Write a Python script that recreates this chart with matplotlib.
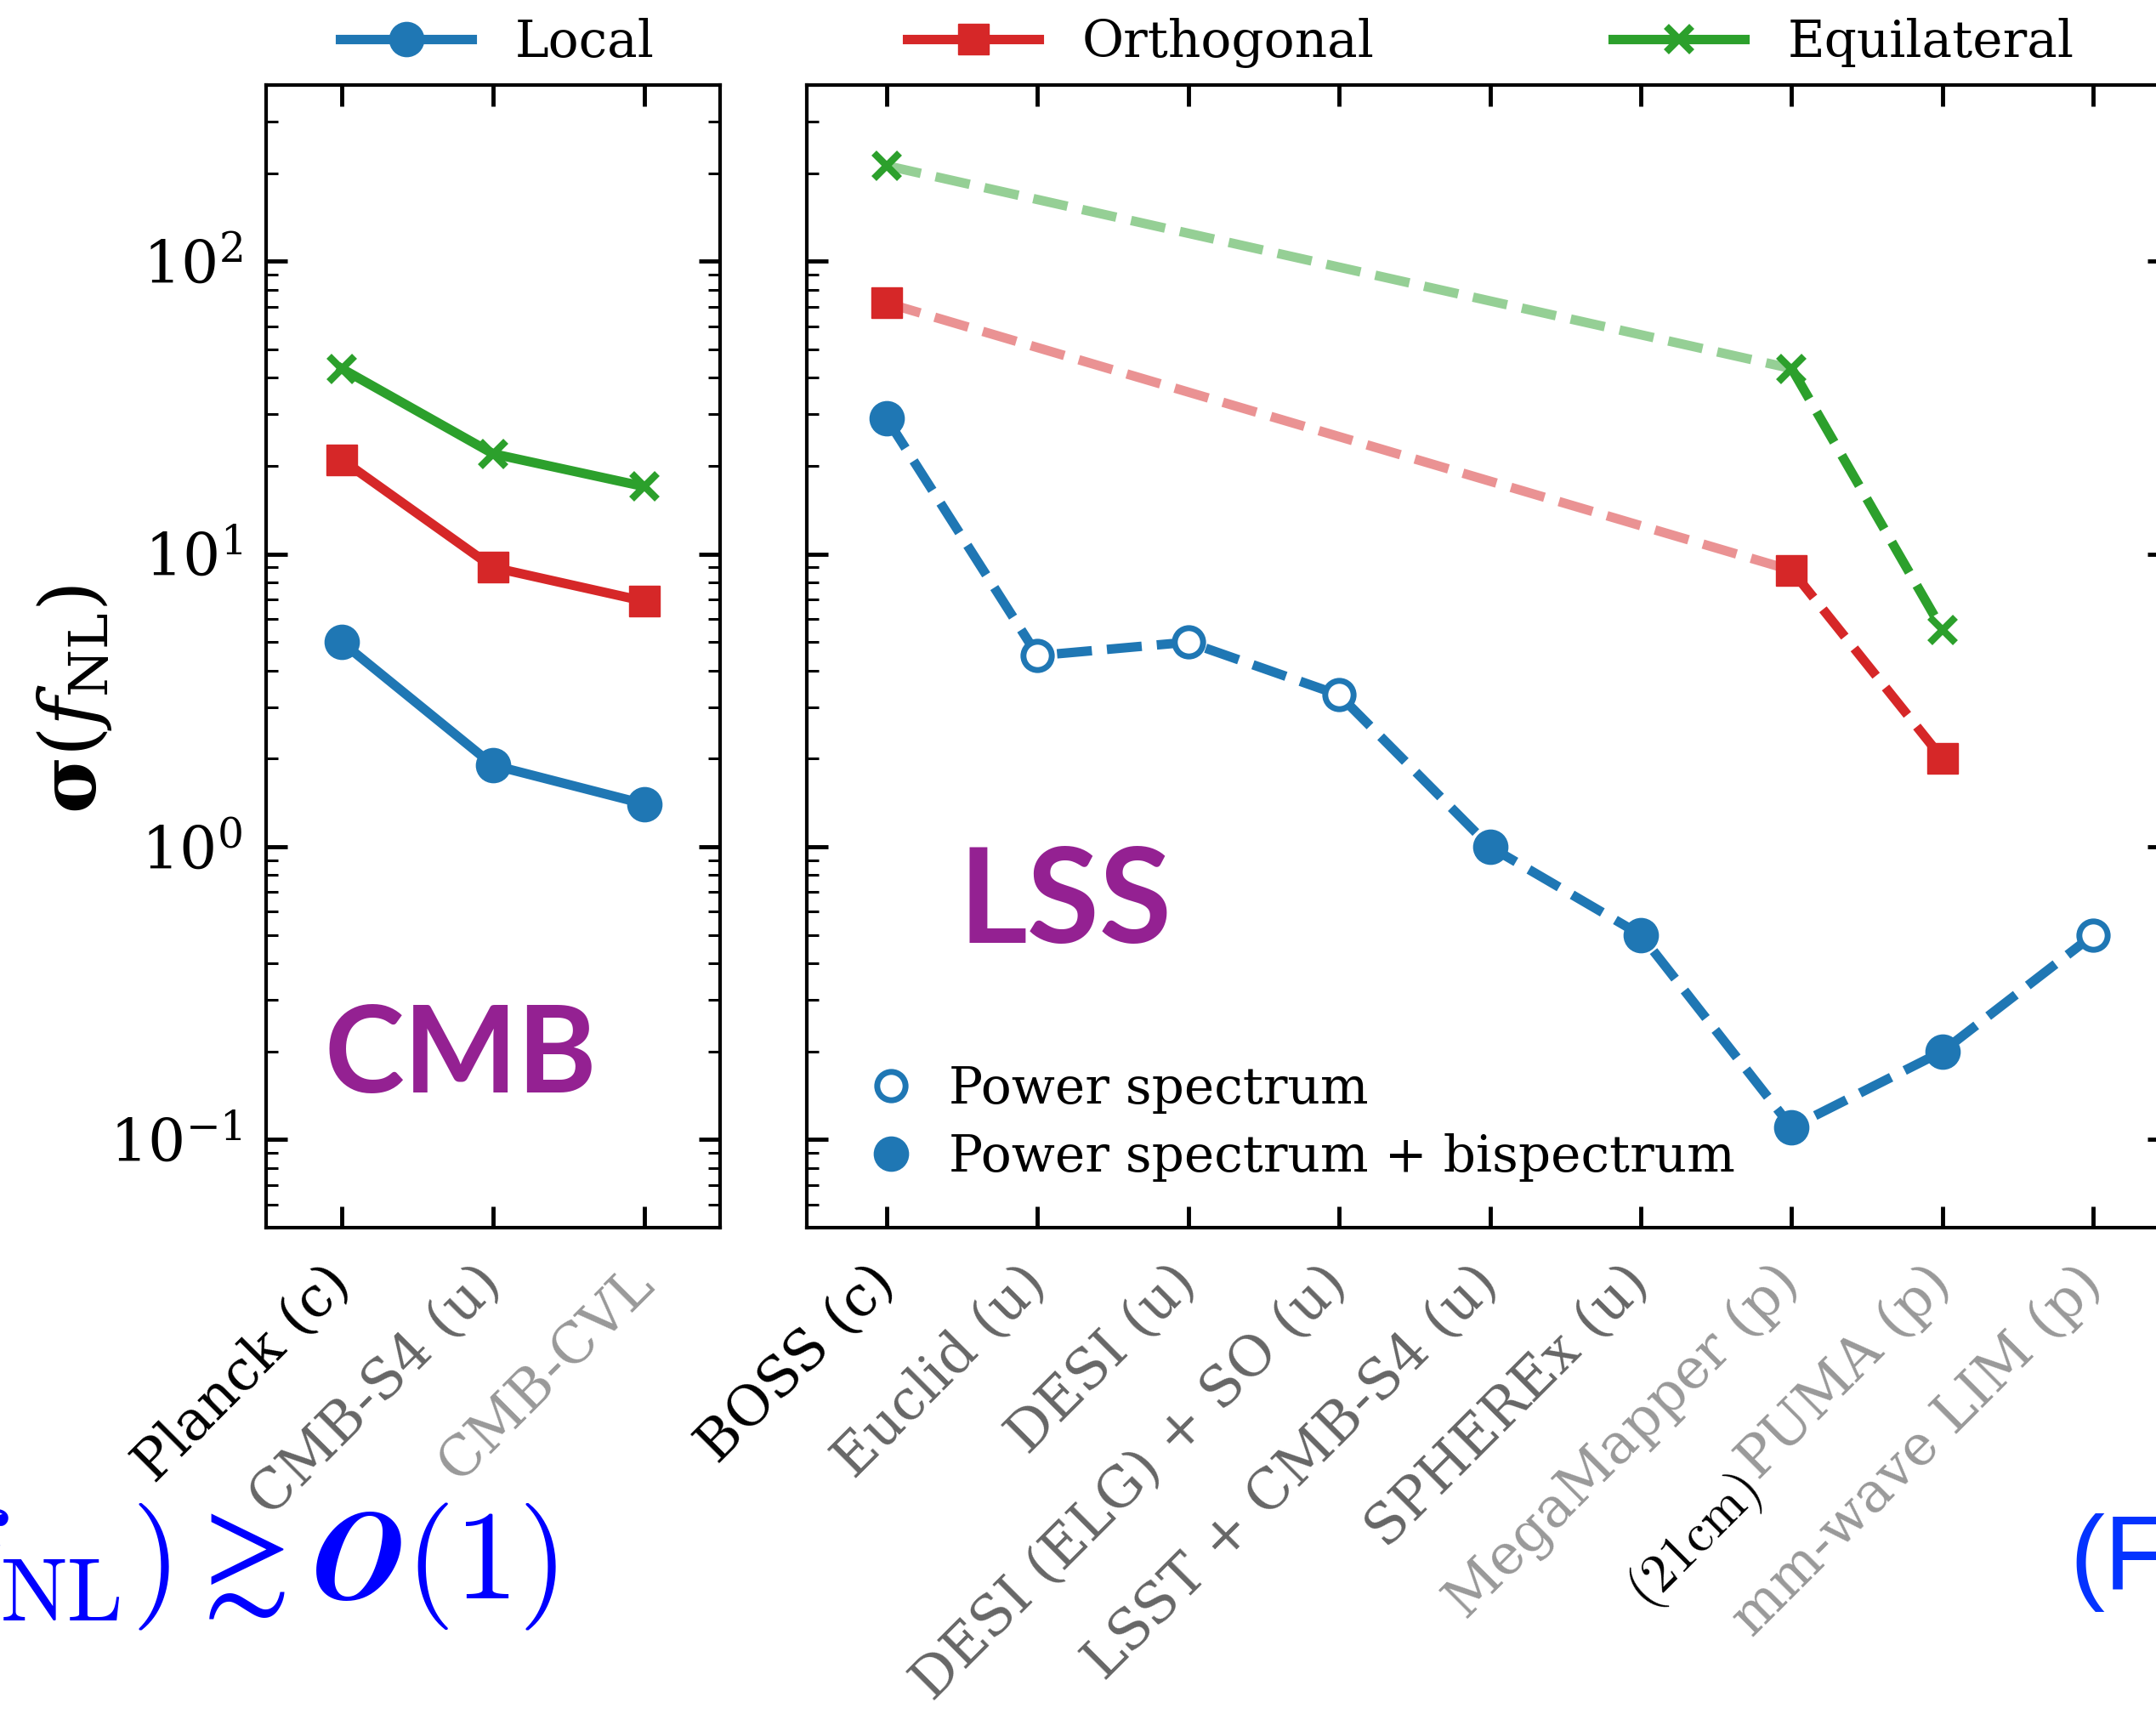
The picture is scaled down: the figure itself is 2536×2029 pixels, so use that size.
import matplotlib
matplotlib.use("Agg")
import matplotlib.pyplot as plt
import matplotlib.transforms as mtransforms

W, H, DPI = 2536, 2029, 100

# CMB experiments
cmb_names = ['Planck (c)', 'CMB-S4 (u)', 'CMB-CVL']
cmb_label_colors = ['black', '#666666', '#999999']
cmb_local = [5.0, 1.9, 1.4]
cmb_orth = [21, 9.0, 6.9]
cmb_equil = [43, 22, 17]

# LSS experiments
lss_names = ['BOSS (c)', 'Euclid (u)', 'DESI (u)', 'DESI (ELG) + SO (u)',
             'LSST + CMB-S4 (u)', 'SPHEREx (u)', 'MegaMapper (p)',
             'PUMA (p)', 'mm-wave LIM (p)']
lss_label_colors = ['black'] + ['#666666'] * 5 + ['#999999'] * 3
lss_local = [29, 4.5, 5.0, 3.3, 1.0, 0.5, 0.11, 0.2, 0.5]
lss_bispec = [True, False, False, False, True, True, True, True, False]
lss_nonlocal_idx = [0, 6, 7]
lss_orth = [72, 8.8, 2.0]
lss_equil = [212, 43, 5.5]

C_LOC, C_ORT, C_EQ = '#1f77b4', '#d62728', '#2ca02c'
PURPLE = '#942192'
LW = 8

plt.rcParams['font.family'] = 'DejaVu Serif'
plt.rcParams['mathtext.fontset'] = 'dejavuserif'
plt.rcParams['font.size'] = 44

ID = mtransforms.IdentityTransform()


def px_box(x0, y0, x1, y1):
    return [x0 / W, 1 - y1 / H, (x1 - x0) / W, (y1 - y0) / H]


fig = plt.figure(figsize=(W / DPI, H / DPI), dpi=DPI)
ax1 = fig.add_axes(px_box(313, 100, 847, 1444))
ax2 = fig.add_axes(px_box(949, 100, 2551, 1444), sharey=ax1)

# CMB panel
x = range(len(cmb_names))
l_loc, = ax1.plot(x, cmb_local, '-o', color=C_LOC, lw=LW, ms=29, label='Local')
l_ort, = ax1.plot(x, cmb_orth, '-s', color=C_ORT, lw=LW, ms=26, label='Orthogonal')
l_eq, = ax1.plot(x, cmb_equil, '-x', color=C_EQ, lw=LW, ms=22, mew=6, label='Equilateral')

# LSS panel
ax2.plot(range(len(lss_names)), lss_local, '--', color=C_LOC, lw=LW)
xf = [i for i, b in enumerate(lss_bispec) if b]
xo = [i for i, b in enumerate(lss_bispec) if not b]
h_open, = ax2.plot(xo, [lss_local[i] for i in xo], 'o', ls='none', mfc='white',
                   mec=C_LOC, mew=5, ms=24, zorder=3, label='Power spectrum')
h_fill, = ax2.plot(xf, [lss_local[i] for i in xf], 'o', ls='none', color=C_LOC,
                   ms=29, zorder=3, label='Power spectrum + bispectrum')

for vals, col, mk, kw in [(lss_orth, C_ORT, 's', dict(ms=26)),
                          (lss_equil, C_EQ, 'x', dict(ms=22, mew=6))]:
    xi = lss_nonlocal_idx
    ax2.plot(xi[:2], vals[:2], '--', color=col, lw=LW, alpha=0.5)
    ax2.plot(xi[1:], vals[1:], '--', color=col, lw=LW)
    ax2.plot(xi, vals, mk, ls='none', color=col, zorder=3, **kw)

ax1.set_yscale('log')
ax1.set_ylim(0.05, 400)
ax1.set_xlim(-0.5, 2.5)
ax2.set_xlim(-0.53, 8.5)

for ax, names, cols in [(ax1, cmb_names, cmb_label_colors),
                        (ax2, lss_names, lss_label_colors)]:
    ax.set_xticks(range(len(names)), names, rotation=45, ha='right',
                  va='center', rotation_mode='anchor', fontsize=47)
    for lab, c in zip(ax.get_xticklabels(), cols):
        lab.set_color(c)
    ax.tick_params(which='both', direction='in', top=True, right=True)
    ax.tick_params(which='major', length=18, width=3.5)
    ax.tick_params(which='minor', length=10, width=2.2)
    ax.tick_params(axis='x', pad=40)
    ax.tick_params(axis='y', labelsize=50, pad=20)
    for sp in ax.spines.values():
        sp.set_linewidth(3)
ax2.tick_params(axis='y', which='both', labelleft=False)

fig.text(88 / W, 1 - 823 / H, r'$\mathbf{\sigma}(f_{\rm NL})$', rotation=90,
         ha='center', va='center', fontsize=66)

ax1.text(542, H - 1245, 'CMB', transform=ID, fontsize=102, fontfamily='Lato',
         fontweight='bold', color=PURPLE, ha='center', va='center')
ax2.text(1253, H - 1064, 'LSS', transform=ID, fontsize=112, fontfamily='Lato',
         fontweight='bold', color=PURPLE, ha='center', va='center')

# top legend: one entry per slot
for handle, x0 in [(l_loc, 400), (l_ort, 1067), (l_eq, 1897)]:
    fig.legend(handles=[handle], loc='center left',
               bbox_to_anchor=(x0 / W, 1 - 50 / H), frameon=False,
               borderpad=0, borderaxespad=0, handlelength=2.6,
               handletextpad=0.85, fontsize=43)

ax2.legend(handles=[h_open, h_fill], loc='lower left', frameon=False,
           bbox_to_anchor=(0.043, 0.04), borderaxespad=0, borderpad=0,
           handlelength=1.0, handletextpad=0.65, labelspacing=0.38, fontsize=43)

# bottom annotations (partly outside the canvas, as in the original slide)
fig.text(655 / W, 1 - 1880 / H, r'$\sigma(f_{\rm NL}) \gtrsim \mathbfit{O}(1)$',
         color='blue', fontsize=108, ha='right', va='baseline',
         math_fontfamily='cm')
fig.text(2434 / W, 1 - 1870 / H, '(F', color='#0433ff', fontsize=89,
         fontfamily='Liberation Sans', ha='left', va='baseline')

# "(21cm)" prefix in front of the PUMA tick label
fig.canvas.draw()
lab = ax2.get_xticklabels()[7]
axp, ayp = lab.get_transform().transform(lab.get_position())
bb = lab.get_window_extent()
s = 0.5 ** 0.5
hh = 2 * (bb.x1 - axp) / s
L = bb.width / s - hh
gap, drop = 8, 16
sx = axp - (L + gap) * s + drop * s
sy = ayp - (L + gap) * s - drop * s
fig.text(sx, sy, r'$(21\mathrm{cm})$', transform=ID,
         rotation=45, rotation_mode='anchor', ha='right', va='center',
         fontsize=46, math_fontfamily='cm', color='black')

fig.savefig('out.png', dpi=DPI)
